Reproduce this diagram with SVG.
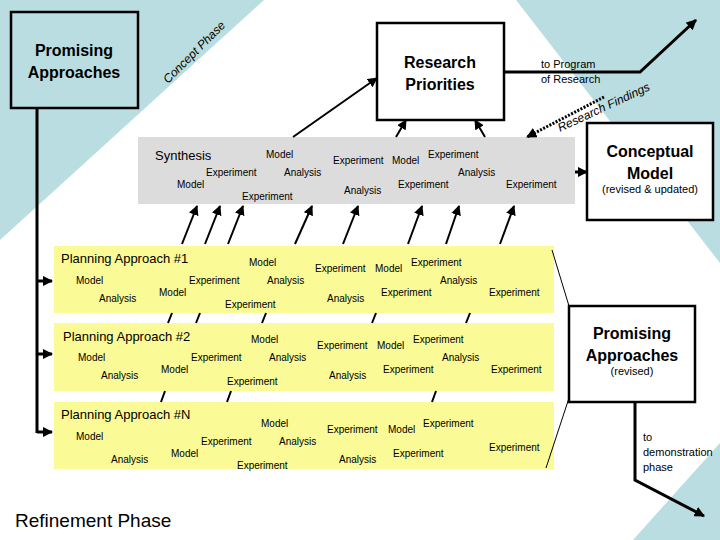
<svg xmlns="http://www.w3.org/2000/svg" width="720" height="540" viewBox="0 0 720 540">
<defs>
<style>
text{font-family:"Liberation Sans",Arial,sans-serif;fill:#000}
.w{font-size:10px;dominant-baseline:central}
.b{font-weight:bold;font-size:16px;text-anchor:middle}
.ln{stroke:#000;stroke-width:2;fill:none}
.th{stroke:#000;stroke-width:3;fill:none}
.box{stroke:#000;stroke-width:2.5}
</style>
<marker id="a" viewBox="0 0 10 10" refX="9" refY="5" markerWidth="5" markerHeight="5" orient="auto"><path d="M0,0L10,5L0,10z" fill="#000"/></marker>
<marker id="b" viewBox="0 0 10 10" refX="9" refY="5" markerWidth="3.5" markerHeight="3.5" orient="auto"><path d="M0,0L10,5L0,10z" fill="#000"/></marker>
</defs>
<rect width="720" height="540" fill="#fff"/>
<polygon points="0,0 264,0 0,240" fill="#b9dde1"/>
<polygon points="516,0 720,0 720,263" fill="#b9dde1"/>
<polygon points="720,443 720,540 633,540" fill="#b9dde1"/>
<text transform="translate(168,84) rotate(-45)" font-size="12" font-style="italic">Concept Phase</text>
<text transform="translate(560,132) rotate(-25)" font-size="12" font-style="italic">Research Findings</text>

<rect id="synthesis" x="138" y="137" width="437" height="67" fill="#dcdcdc"/>
<g id="band1"><rect x="54" y="246" width="500" height="67" fill="#fafa96"/></g>
<g id="band2"><rect x="54" y="323" width="500" height="68" fill="#fafa96"/></g>
<g id="bandN"><rect x="54" y="402" width="500" height="67" fill="#fafa96"/></g>

<g id="connectors">
<polyline class="th" points="37,108 37,433"/>
<line class="th" x1="37" y1="281" x2="52" y2="281" marker-end="url(#b)"/>
<line class="th" x1="37" y1="354" x2="52" y2="354" marker-end="url(#b)"/>
<line class="th" x1="37" y1="432" x2="52" y2="432" marker-end="url(#b)"/>
<polyline class="th" points="504,72 640,72 696,20" marker-end="url(#b)"/>
<line class="ln" x1="293" y1="137" x2="377" y2="78" marker-end="url(#a)"/>
<line class="ln" x1="396" y1="137" x2="406" y2="120" marker-end="url(#a)"/>
<line class="ln" x1="485" y1="137" x2="475" y2="120" marker-end="url(#a)"/>
<line x1="604" y1="97" x2="527" y2="137" stroke="#000" stroke-width="3" stroke-dasharray="2,1.5" marker-end="url(#b)"/>
<line class="th" x1="575" y1="172" x2="587" y2="172" marker-end="url(#b)"/>
<g class="ln">
<line x1="182" y1="244" x2="197" y2="206" marker-end="url(#a)"/>
<line x1="205" y1="244" x2="220" y2="206" marker-end="url(#a)"/>
<line x1="228" y1="244" x2="243" y2="206" marker-end="url(#a)"/>
<line x1="295" y1="244" x2="312" y2="206" marker-end="url(#a)"/>
<line x1="343" y1="244" x2="358" y2="206" marker-end="url(#a)"/>
<line x1="408" y1="244" x2="422" y2="206" marker-end="url(#a)"/>
<line x1="446" y1="244" x2="459" y2="206" marker-end="url(#a)"/>
<line x1="500" y1="244" x2="514" y2="206" marker-end="url(#a)"/>
<line x1="168" y1="323" x2="172" y2="313"/>
<line x1="196" y1="323" x2="200" y2="313"/>
<line x1="262" y1="323" x2="266" y2="313"/>
<line x1="372" y1="323" x2="376" y2="313"/>
<line x1="466" y1="323" x2="470" y2="313"/>
<line x1="161" y1="402" x2="165" y2="391"/>
<line x1="227" y1="402" x2="231" y2="391"/>
<line x1="432" y1="402" x2="436" y2="391"/>
</g>
<line x1="552" y1="250" x2="569" y2="306" stroke="#000" stroke-width="1"/>
<line x1="569" y1="398" x2="546" y2="468" stroke="#000" stroke-width="1"/>
<polyline class="th" points="635,402 635,480 704,516" marker-end="url(#b)"/>
</g>

<g id="promising"><rect class="box" x="11" y="12" width="127" height="96" fill="#b9dde1"/>
<text class="b" x="74" y="56">Promising</text><text class="b" x="74" y="78">Approaches</text></g>
<g id="research"><rect class="box" x="377" y="23" width="127" height="97" fill="#fff"/>
<text class="b" x="440" y="68">Research</text><text class="b" x="440" y="90">Priorities</text></g>
<g id="conceptual"><rect class="box" x="587" y="123" width="126" height="97" fill="#fff"/>
<text class="b" x="650" y="157" font-size="17">Conceptual</text><text class="b" x="650" y="179" font-size="17">Model</text>
<text x="650" y="193" font-size="11" text-anchor="middle">(revised &amp; updated)</text></g>
<g id="promising2"><rect class="box" x="569" y="306" width="126" height="96" fill="#fff"/>
<text class="b" x="632" y="339">Promising</text><text class="b" x="632" y="361">Approaches</text>
<text x="632" y="375" font-size="11" text-anchor="middle">(revised)</text></g>

<text x="541" y="68" font-size="11">to Program</text>
<text x="541" y="83" font-size="11">of Research</text>
<text x="643" y="441" font-size="11">to</text>
<text x="643" y="456" font-size="11">demonstration</text>
<text x="643" y="471" font-size="11">phase</text>
<text x="15" y="527" font-size="19">Refinement Phase</text>

<g id="synthesis-words">
<text x="155" y="155" font-size="13" dominant-baseline="central">Synthesis</text>
<text class="w" x="266" y="154">Model</text>
<text class="w" x="206" y="172">Experiment</text>
<text class="w" x="284" y="172">Analysis</text>
<text class="w" x="177" y="184">Model</text>
<text class="w" x="242" y="196">Experiment</text>
<text class="w" x="333" y="160">Experiment</text>
<text class="w" x="392" y="160">Model</text>
<text class="w" x="428" y="154">Experiment</text>
<text class="w" x="458" y="172">Analysis</text>
<text class="w" x="344" y="190">Analysis</text>
<text class="w" x="398" y="184">Experiment</text>
<text class="w" x="506" y="184">Experiment</text>
</g>
<g id="band1-words">
<text x="61" y="258" font-size="13" dominant-baseline="central">Planning Approach #1</text>
<text class="w" x="249" y="262">Model</text>
<text class="w" x="315" y="268">Experiment</text>
<text class="w" x="375" y="268">Model</text>
<text class="w" x="411" y="262">Experiment</text>
<text class="w" x="76" y="280">Model</text>
<text class="w" x="189" y="280">Experiment</text>
<text class="w" x="267" y="280">Analysis</text>
<text class="w" x="440" y="280">Analysis</text>
<text class="w" x="99" y="298">Analysis</text>
<text class="w" x="159" y="292">Model</text>
<text class="w" x="225" y="304">Experiment</text>
<text class="w" x="327" y="298">Analysis</text>
<text class="w" x="381" y="292">Experiment</text>
<text class="w" x="489" y="292">Experiment</text>
</g>
<g id="band2-words" transform="translate(2,77)">
<text x="61" y="259" font-size="13" dominant-baseline="central">Planning Approach #2</text>
<text class="w" x="249" y="262">Model</text>
<text class="w" x="315" y="268">Experiment</text>
<text class="w" x="375" y="268">Model</text>
<text class="w" x="411" y="262">Experiment</text>
<text class="w" x="76" y="280">Model</text>
<text class="w" x="189" y="280">Experiment</text>
<text class="w" x="267" y="280">Analysis</text>
<text class="w" x="440" y="280">Analysis</text>
<text class="w" x="99" y="298">Analysis</text>
<text class="w" x="159" y="292">Model</text>
<text class="w" x="225" y="304">Experiment</text>
<text class="w" x="327" y="298">Analysis</text>
<text class="w" x="381" y="292">Experiment</text>
<text class="w" x="489" y="292">Experiment</text>
</g>
<g id="bandN-words">
<text x="61" y="414" font-size="13" dominant-baseline="central">Planning Approach #N</text>
<text class="w" x="261" y="423">Model</text>
<text class="w" x="327" y="429">Experiment</text>
<text class="w" x="388" y="429">Model</text>
<text class="w" x="423" y="423">Experiment</text>
<text class="w" x="76" y="436">Model</text>
<text class="w" x="201" y="441">Experiment</text>
<text class="w" x="279" y="441">Analysis</text>
<text class="w" x="111" y="459">Analysis</text>
<text class="w" x="171" y="453">Model</text>
<text class="w" x="237" y="465">Experiment</text>
<text class="w" x="339" y="459">Analysis</text>
<text class="w" x="393" y="453">Experiment</text>
<text class="w" x="489" y="447">Experiment</text>
</g>
</svg>
